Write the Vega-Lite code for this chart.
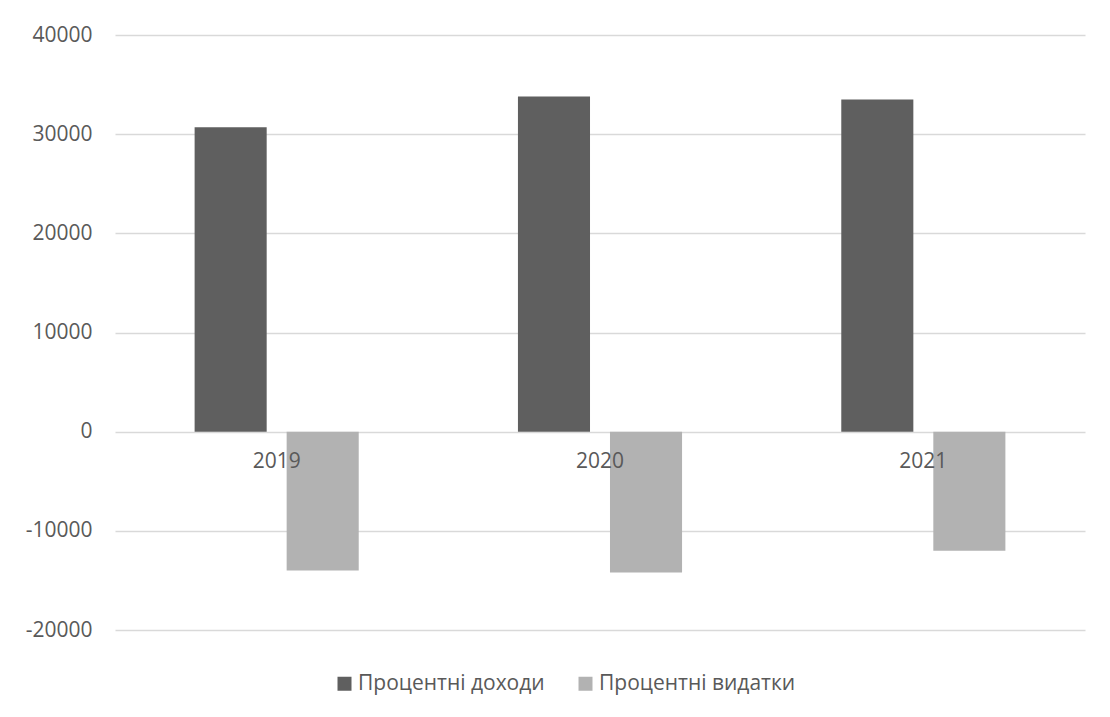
{
  "$schema": "https://vega.github.io/schema/vega-lite/v6.json",
  "autosize": {"type": "none"},
  "padding": {"left": 115, "top": 35, "right": 25, "bottom": 87},
  "width": 970,
  "height": 595,
  "background": "white",
  "data": {
    "values": [
      {"year": "2019", "series": "Процентні доходи", "value": 30700},
      {"year": "2019", "series": "Процентні видатки", "value": -14000},
      {"year": "2020", "series": "Процентні доходи", "value": 33800},
      {"year": "2020", "series": "Процентні видатки", "value": -14200},
      {"year": "2021", "series": "Процентні доходи", "value": 33500},
      {"year": "2021", "series": "Процентні видатки", "value": -12000}
    ]
  },
  "mark": {"type": "bar"},
  "encoding": {
    "x": {
      "field": "year",
      "type": "nominal",
      "title": null,
      "scale": {"paddingInner": 0, "paddingOuter": 0},
      "axis": {
        "orient": "bottom",
        "offset": -198.5,
        "domain": false,
        "ticks": false,
        "grid": false,
        "labelAngle": 0,
        "labelPadding": 19,
        "labelFont": "Open Sans",
        "labelFontSize": 21,
        "labelColor": "#595959",
        "zindex": 1
      }
    },
    "xOffset": {
      "field": "series",
      "type": "nominal",
      "sort": ["Процентні доходи", "Процентні видатки"],
      "scale": {"paddingInner": 0.217, "paddingOuter": 0.865}
    },
    "y": {
      "field": "value",
      "type": "quantitative",
      "title": null,
      "scale": {"domain": [-20000, 40000], "nice": false, "zero": true},
      "axis": {
        "values": [-20000, -10000, 0, 10000, 20000, 30000, 40000],
        "labelExpr": "datum.value + ''",
        "domain": false,
        "ticks": false,
        "grid": true,
        "gridColor": "#d9d9d9",
        "gridWidth": 1.6,
        "labelPadding": 23,
        "labelFont": "Open Sans",
        "labelFontSize": 21,
        "labelColor": "#595959"
      }
    },
    "color": {
      "field": "series",
      "type": "nominal",
      "sort": ["Процентні доходи", "Процентні видатки"],
      "scale": {
        "domain": ["Процентні доходи", "Процентні видатки"],
        "range": ["#5f5f5f", "#b2b2b2"]
      },
      "legend": {
        "title": null,
        "orient": "none",
        "direction": "horizontal",
        "legendX": 219,
        "legendY": 638,
        "symbolType": "square",
        "symbolSize": 196,
        "symbolStrokeWidth": 0,
        "symbolOpacity": 1,
        "labelFont": "Open Sans",
        "labelFontSize": 21,
        "labelColor": "#595959",
        "labelLimit": 400,
        "labelOffset": 3,
        "columnPadding": 30
      }
    }
  },
  "config": {
    "view": {"stroke": null}
  }
}
